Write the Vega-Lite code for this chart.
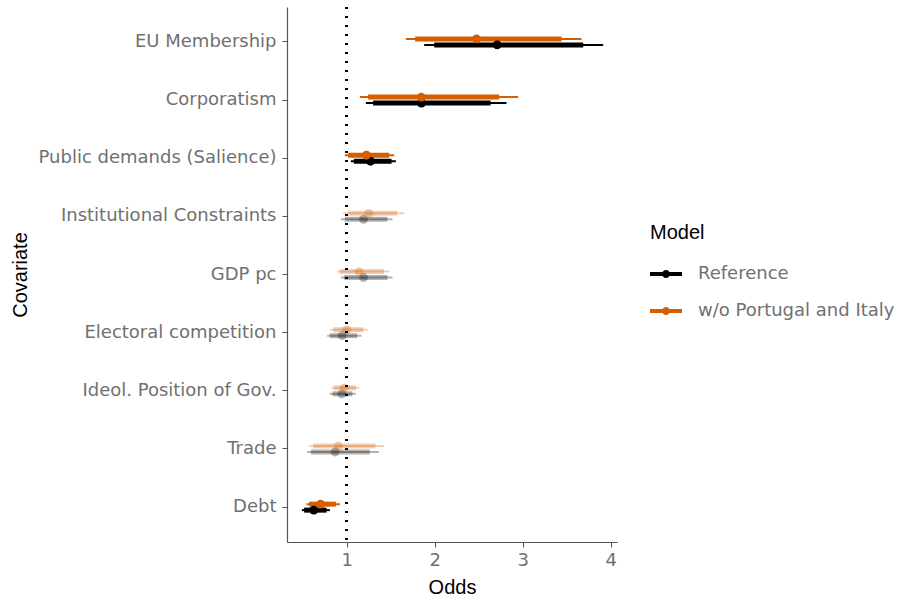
{
  "$schema": "https://vega.github.io/schema/vega-lite/v6.json",
  "width": 330,
  "height": 535,
  "autosize": "none",
  "padding": {"left": 287, "top": 7, "right": 284, "bottom": 56},
  "config": {
    "view": {"stroke": null},
    "font": "DejaVu Sans",
    "axis": {
      "grid": false,
      "domainColor": "#555555",
      "domainWidth": 1.2,
      "tickColor": "#555555",
      "tickSize": 5,
      "labelFont": "DejaVu Sans",
      "labelFontSize": 18,
      "labelColor": "#707070",
      "titleFont": "Liberation Sans",
      "titleFontSize": 20,
      "titleColor": "#000000",
      "titleFontWeight": "normal"
    },
    "legend": {
      "titleFont": "Liberation Sans",
      "titleFontSize": 20,
      "titleFontWeight": "normal",
      "titleColor": "#000000",
      "labelFont": "DejaVu Sans",
      "labelFontSize": 18,
      "labelColor": "#707070",
      "labelLimit": 400
    }
  },
  "data": {
    "values": [
      {"covariate": "EU Membership", "model": "Reference", "est": 2.708, "lo95": 1.879, "hi95": 3.913, "lo": 1.993, "hi": 3.686, "sig": "yes"},
      {"covariate": "Corporatism", "model": "Reference", "est": 1.848, "lo95": 1.216, "hi95": 2.814, "lo": 1.299, "hi": 2.633, "sig": "yes"},
      {"covariate": "Public demands (Salience)", "model": "Reference", "est": 1.269, "lo95": 1.045, "hi95": 1.557, "lo": 1.08, "hi": 1.508, "sig": "yes"},
      {"covariate": "Institutional Constraints", "model": "Reference", "est": 1.19, "lo95": 0.932, "hi95": 1.519, "lo": 0.977, "hi": 1.462, "sig": "no"},
      {"covariate": "GDP pc", "model": "Reference", "est": 1.19, "lo95": 0.932, "hi95": 1.519, "lo": 0.97, "hi": 1.462, "sig": "no"},
      {"covariate": "Electoral competition", "model": "Reference", "est": 0.947, "lo95": 0.776, "hi95": 1.167, "lo": 0.807, "hi": 1.117, "sig": "no"},
      {"covariate": "Ideol. Position of Gov.", "model": "Reference", "est": 0.943, "lo95": 0.807, "hi95": 1.102, "lo": 0.837, "hi": 1.064, "sig": "no"},
      {"covariate": "Trade", "model": "Reference", "est": 0.867, "lo95": 0.549, "hi95": 1.364, "lo": 0.591, "hi": 1.261, "sig": "no"},
      {"covariate": "Debt", "model": "Reference", "est": 0.625, "lo95": 0.489, "hi95": 0.807, "lo": 0.515, "hi": 0.769, "sig": "yes"},
      {"covariate": "EU Membership", "model": "w/o Portugal and Italy", "est": 2.474, "lo95": 1.67, "hi95": 3.667, "lo": 1.776, "hi": 3.44, "sig": "yes"},
      {"covariate": "Corporatism", "model": "w/o Portugal and Italy", "est": 1.845, "lo95": 1.148, "hi95": 2.947, "lo": 1.242, "hi": 2.731, "sig": "yes"},
      {"covariate": "Public demands (Salience)", "model": "w/o Portugal and Italy", "est": 1.223, "lo95": 0.977, "hi95": 1.538, "lo": 1.015, "hi": 1.481, "sig": "yes"},
      {"covariate": "Institutional Constraints", "model": "w/o Portugal and Italy", "est": 1.25, "lo95": 0.958, "hi95": 1.648, "lo": 1.015, "hi": 1.572, "sig": "no"},
      {"covariate": "GDP pc", "model": "w/o Portugal and Italy", "est": 1.14, "lo95": 0.89, "hi95": 1.481, "lo": 0.92, "hi": 1.42, "sig": "no"},
      {"covariate": "Electoral competition", "model": "w/o Portugal and Italy", "est": 1.0, "lo95": 0.807, "hi95": 1.235, "lo": 0.845, "hi": 1.186, "sig": "no"},
      {"covariate": "Ideol. Position of Gov.", "model": "w/o Portugal and Italy", "est": 0.97, "lo95": 0.826, "hi95": 1.14, "lo": 0.852, "hi": 1.102, "sig": "no"},
      {"covariate": "Trade", "model": "w/o Portugal and Italy", "est": 0.902, "lo95": 0.572, "hi95": 1.42, "lo": 0.617, "hi": 1.326, "sig": "no"},
      {"covariate": "Debt", "model": "w/o Portugal and Italy", "est": 0.701, "lo95": 0.542, "hi95": 0.92, "lo": 0.572, "hi": 0.875, "sig": "yes"}
    ]
  },
  "layer": [
    {
      "encoding": {
        "y": {
          "field": "covariate",
          "type": "nominal",
          "sort": ["EU Membership", "Corporatism", "Public demands (Salience)", "Institutional Constraints", "GDP pc", "Electoral competition", "Ideol. Position of Gov.", "Trade", "Debt"],
          "scale": {"type": "band", "paddingInner": 0, "paddingOuter": 0.1},
          "axis": {"title": "Covariate", "labelPadding": 6, "titlePadding": 57, "labelLimit": 400}
        },
        "yOffset": {
          "field": "model",
          "type": "nominal",
          "scale": {"type": "point", "padding": 0, "range": [26.1, 32.1], "domain": ["w/o Portugal and Italy", "Reference"]}
        },
        "color": {
          "field": "model",
          "type": "nominal",
          "scale": {"domain": ["Reference", "w/o Portugal and Italy"], "range": ["#000000", "#D55E00"]},
          "legend": {
            "title": "Model",
            "orient": "none",
            "legendX": 363,
            "legendY": 216,
            "symbolType": "M-1,-0.13L1,-0.13L1,0.13L-1,0.13Z M0.25,0A0.25,0.25 0 1 1 -0.25,0A0.25,0.25 0 1 1 0.25,0Z",
            "symbolSize": 1024,
            "symbolStrokeWidth": 0,
            "symbolOpacity": 1,
            "labelOffset": 16,
            "rowPadding": 12,
            "titlePadding": 15
          }
        },
        "opacity": {
          "field": "sig",
          "type": "nominal",
          "scale": {"domain": ["yes", "no"], "range": [1, 0.3]},
          "legend": null
        }
      },
      "layer": [
        {
          "mark": {"type": "rule", "strokeWidth": 2},
          "encoding": {
            "x": {
              "field": "lo95",
              "type": "quantitative",
              "scale": {"domain": [0.32, 4.07], "nice": false, "zero": false},
              "axis": {"title": "Odds", "values": [1, 2, 3, 4], "format": "d", "labelPadding": 4, "titlePadding": 8}
            },
            "x2": {"field": "hi95"}
          }
        },
        {
          "mark": {"type": "rule", "strokeWidth": 5},
          "encoding": {
            "x": {"field": "lo", "type": "quantitative"},
            "x2": {"field": "hi"}
          }
        },
        {
          "mark": {"type": "point", "filled": true, "size": 78},
          "encoding": {
            "x": {"field": "est", "type": "quantitative"}
          }
        }
      ]
    },
    {
      "mark": {"type": "rule", "color": "#000000", "strokeWidth": 2, "strokeDash": [2, 7]},
      "encoding": {"x": {"datum": 1}}
    }
  ]
}
